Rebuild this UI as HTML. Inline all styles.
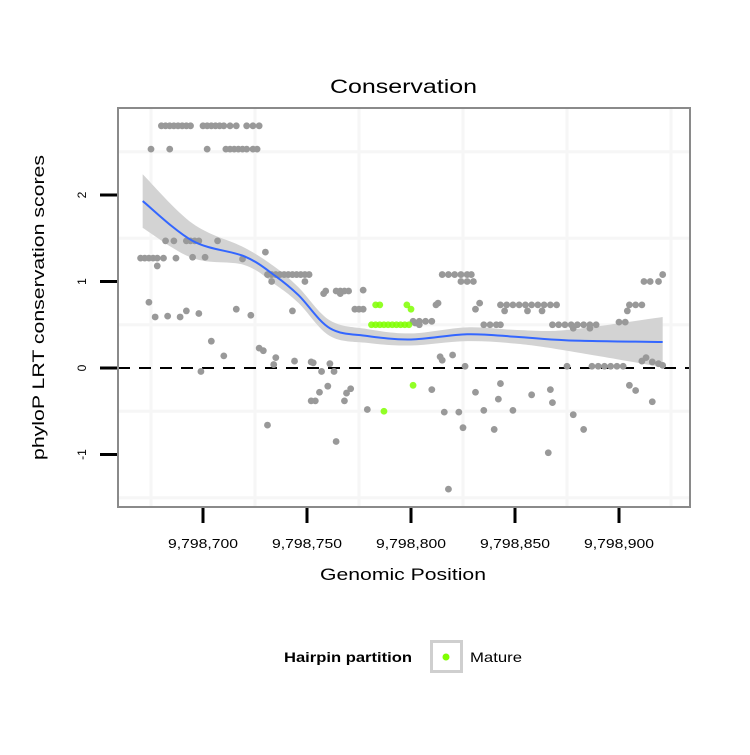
<!DOCTYPE html>
<html><head><meta charset="utf-8"><style>
html,body{margin:0;padding:0;background:#fff;}
text{font-family:"Liberation Sans",sans-serif;}
</style></head><body>
<svg id="chart" width="750" height="750" xmlns="http://www.w3.org/2000/svg">
<rect width="750" height="750" fill="#fff"/>
<g id="grid"></g>
<g id="ribbon"></g>
<g id="zero"></g>
<g id="pts"></g>
<g id="fit"></g>
<rect x="118" y="108" width="572" height="399" fill="none" stroke="#8a8a8a" stroke-width="2"/>
<g id="axes"></g>
<text x="330" y="93" font-size="19" textLength="147" lengthAdjust="spacingAndGlyphs">Conservation</text>
<text x="320" y="580" font-size="17" textLength="166" lengthAdjust="spacingAndGlyphs">Genomic Position</text>
<text transform="translate(44,460) rotate(-90)" font-size="17" textLength="305" lengthAdjust="spacingAndGlyphs">phyloP LRT conservation scores</text>
<g>
<text x="284" y="662" font-size="14" font-weight="bold" textLength="128" lengthAdjust="spacingAndGlyphs">Hairpin partition</text>
<rect x="431.5" y="641.5" width="30" height="30" fill="#fff" stroke="#cfcfcf" stroke-width="3"/>
<circle cx="446" cy="657" r="3.5" fill="#7fff00"/>
<text x="470" y="662" font-size="14" textLength="52" lengthAdjust="spacingAndGlyphs">Mature</text>
</g>
</svg>
<script>
const base = 9798700;
const xTicks = [9798700, 9798750, 9798800, 9798850, 9798900];
const xTickLabels = ["9,798,700","9,798,750","9,798,800","9,798,850","9,798,900"];
const yTicks = [-1, 0, 1, 2];
const yTickLabels = ["-1","0","1","2"];
const xGrid = [-25, 25, 75, 125, 175, 225];
const yGrid = [-1.5, -0.5, 0.5, 1.5, 2.5];
const grayOffsets = [-20,-18,-16,-14,-12,-10,-8,-6,0,2,4,6,8,10,13,16,21,24,27,
 -25,-16,2,11,13,15,17,19,21,24,26,
 -18,-14,-8,-6,-4,-2,7,-30,-28,-26,-24,-22,-19,-22,-13,-5,1,30,19,
 31,33,35,37,39,41,43,45,47,49,51,33,49,59,58,64,66,68,70,66,77,73,75,77,
 -26,-23,-17,-11,-8,-2,16,23,43,
 4,10,27,29,35,34,44,52,53,57,61,63,-1,
 60,56,54,52,71,69,68,79,31,64,102,
 101,104,107,110,104,112,113,115,118,121,124,127,129,124,127,130,131,133,
 143,146,149,152,155,158,161,164,167,170,145,156,163,
 135,138,141,143,168,171,174,177,180,183,186,189,178,186,
 200,203,205,208,211,204,212,215,219,221,
 211,213,216,219,221,187,190,193,196,199,202,175,114,115,120,126,
 110,131,143,142,158,167,168,205,208,216,
 116,123,135,149,178,125,140,183,166,118];
const grayValues = [2.8,2.8,2.8,2.8,2.8,2.8,2.8,2.8,2.8,2.8,2.8,2.8,2.8,2.8,2.8,2.8,2.8,2.8,2.8,
 2.53,2.53,2.53,2.53,2.53,2.53,2.53,2.53,2.53,2.53,2.53,
 1.47,1.47,1.47,1.47,1.47,1.47,1.47,1.27,1.27,1.27,1.27,1.27,1.27,1.18,1.27,1.28,1.28,1.34,1.26,
 1.08,1.08,1.08,1.08,1.08,1.08,1.08,1.08,1.08,1.08,1.08,1.0,1.0,0.89,0.86,0.89,0.89,0.89,0.89,0.86,0.9,0.68,0.68,0.68,
 0.76,0.59,0.6,0.59,0.66,0.63,0.68,0.61,0.66,
 0.31,0.14,0.23,0.2,0.12,0.04,0.08,0.07,0.06,-0.04,0.05,-0.04,-0.04,
 -0.21,-0.28,-0.38,-0.38,-0.24,-0.29,-0.38,-0.48,-0.66,-0.85,0.52,
 0.54,0.54,0.54,0.54,0.5,0.73,0.75,1.08,1.08,1.08,1.08,1.08,1.08,1.0,1.0,1.0,0.68,0.75,
 0.73,0.73,0.73,0.73,0.73,0.73,0.73,0.73,0.73,0.73,0.66,0.66,0.66,
 0.5,0.5,0.5,0.5,0.5,0.5,0.5,0.5,0.5,0.5,0.5,0.5,0.46,0.46,
 0.53,0.53,0.73,0.73,0.73,0.66,1.0,1.0,1.0,1.08,
 0.08,0.12,0.07,0.05,0.03,0.02,0.02,0.02,0.02,0.02,0.02,0.02,0.13,0.09,0.15,0.02,
 -0.25,-0.28,-0.18,-0.36,-0.31,-0.25,-0.4,-0.2,-0.26,-0.39,
 -0.51,-0.51,-0.49,-0.49,-0.54,-0.69,-0.71,-0.71,-0.98,-1.4];
const matureOffsets = [83,85,98,100,81,83,85,87,89,91,93,95,97,99,101,87];
const matureValues = [0.73,0.73,0.73,0.68,0.5,0.5,0.5,0.5,0.5,0.5,0.5,0.5,0.5,0.5,-0.2,-0.5];
const fitOffsets = [-29,-5,20,35,46,61,79,100,127,151,175,221];
const fitValues = [1.93,1.47,1.29,1.06,0.84,0.46,0.37,0.33,0.39,0.36,0.32,0.30];
const fitSE = [0.31,0.2,0.1,0.1,0.09,0.09,0.08,0.07,0.08,0.08,0.12,0.29];

const NS="http://www.w3.org/2000/svg";
const X = v => 203 + (v - base) * 2.08;
const XO = o => X(base + o);
const Y = v => 368 - v * 86.5;
function mk(tag, attrs, parent){const e=document.createElementNS(NS,tag);for(const k in attrs)e.setAttribute(k,attrs[k]);parent.appendChild(e);return e;}
const g = id => document.getElementById(id);

xGrid.forEach(o=>{const l=mk('line',{x1:XO(o),x2:XO(o),y1:109,y2:506,stroke:'#f6f6f6','stroke-width':3},g('grid'));

});
yGrid.forEach(v=>{const l=mk('line',{x1:119,x2:689,y1:Y(v),y2:Y(v),stroke:'#f6f6f6','stroke-width':3},g('grid'));

});

function smoothPath(pts){let d=`M${pts[0][0]},${pts[0][1]}`;for(let i=0;i<pts.length-1;i++){const p0=pts[Math.max(0,i-1)],p1=pts[i],p2=pts[i+1],p3=pts[Math.min(pts.length-1,i+2)];
d+=` C${p1[0]+(p2[0]-p0[0])/6},${p1[1]+(p2[1]-p0[1])/6} ${p2[0]-(p3[0]-p1[0])/6},${p2[1]-(p3[1]-p1[1])/6} ${p2[0]},${p2[1]}`;}return d;}
const up = fitOffsets.map((o,i)=>[XO(o),Y(fitValues[i]+fitSE[i])]);
const lo = fitOffsets.map((o,i)=>[XO(o),Y(fitValues[i]-fitSE[i])]).reverse();
const rib = mk('path',{d:smoothPath(up)+' L'+smoothPath(lo).slice(1)+' Z',fill:'#d3d3d3'},g('ribbon'));



const zl = mk('line',{x1:118,x2:690,y1:Y(0),y2:Y(0),stroke:'#000','stroke-width':2,'stroke-dasharray':'12,9'},g('zero'));



grayOffsets.forEach((o,i)=>{const c=mk('circle',{cx:XO(o),cy:Y(grayValues[i]),r:3.4,fill:'#999'},g('pts'));

});
matureOffsets.forEach((o,i)=>{const c=mk('circle',{cx:XO(o),cy:Y(matureValues[i]),r:3.4,fill:'#7fff00','fill-opacity':0.85},g('pts'));

});

const fl = mk('path',{d:smoothPath(fitOffsets.map((o,i)=>[XO(o),Y(fitValues[i])])),fill:'none',stroke:'#3366ff','stroke-width':2},g('fit'));



xTicks.forEach((v,i)=>{const t=mk('line',{x1:X(v),x2:X(v),y1:508,y2:523,stroke:'#000','stroke-width':3},g('axes'));


const tx=mk('text',{x:X(v)-35,y:548,'font-size':12.5,textLength:70,lengthAdjust:'spacingAndGlyphs'},g('axes'));tx.textContent=xTickLabels[i];

});
yTicks.forEach((v,i)=>{const t=mk('line',{x1:100,x2:117,y1:Y(v),y2:Y(v),stroke:'#000','stroke-width':3},g('axes'));


const tx=mk('text',{transform:`translate(86,${Y(v)}) rotate(-90)`,'font-size':12,'text-anchor':'middle'},g('axes'));tx.textContent=yTickLabels[i];

});
</script>
</body></html>
